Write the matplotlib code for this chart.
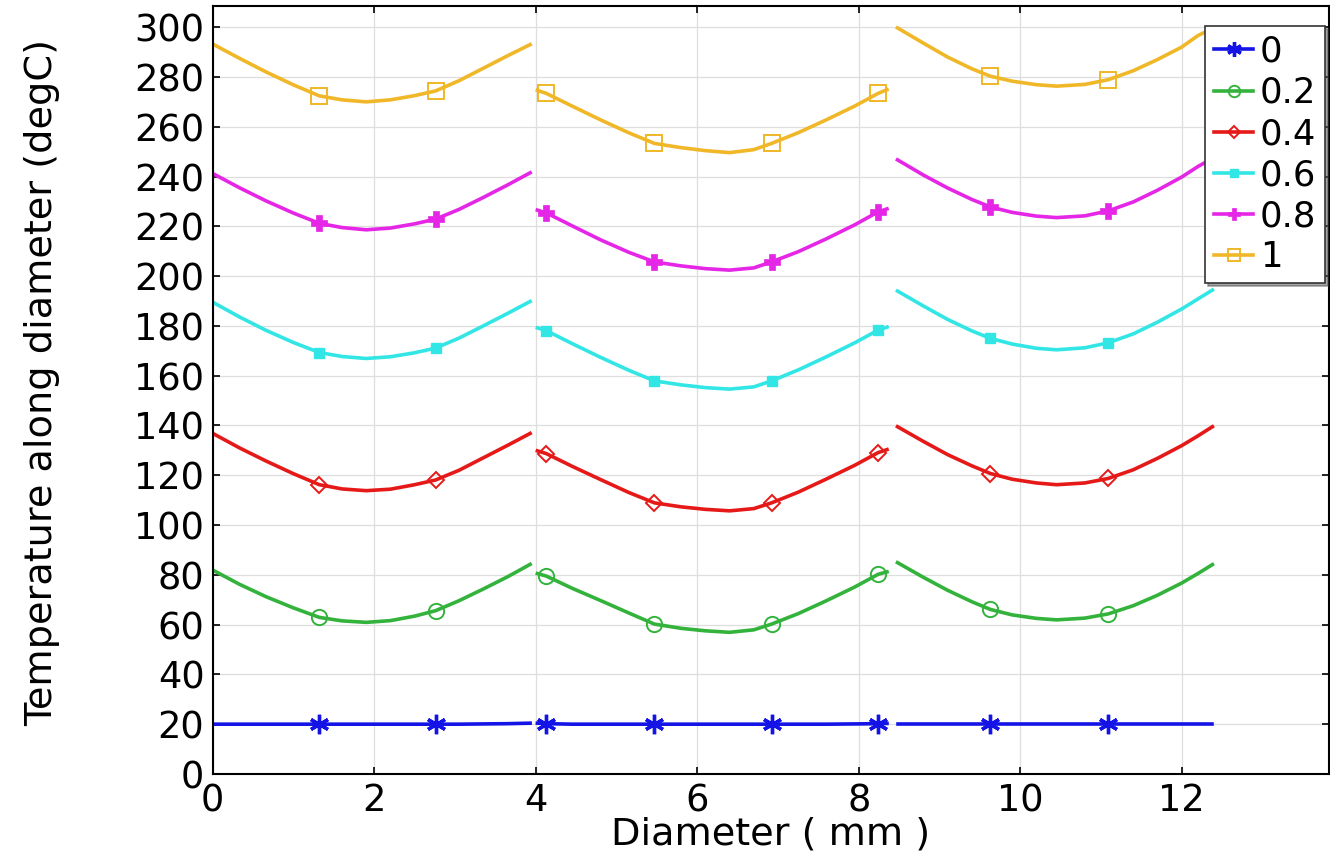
import numpy as np
import matplotlib
matplotlib.use("Agg")
import matplotlib.pyplot as plt

# x positions (mm) of the sampled points, one list per segment
seg_x = [
    [0.0, 0.33, 0.66, 1.0, 1.32, 1.6, 1.9, 2.2, 2.5, 2.76, 3.05, 3.35, 3.65, 3.93],
    [4.02, 4.13, 4.45, 4.8, 5.15, 5.47, 5.8, 6.1, 6.4, 6.7, 6.92, 7.25, 7.6, 7.95, 8.24, 8.35],
    [8.48, 8.8, 9.1, 9.4, 9.63, 9.9, 10.2, 10.45, 10.8, 11.09, 11.4, 11.7, 12.0, 12.2, 12.38],
]
# indices of the points that carry a marker
seg_marks = [[4, 9], [1, 5, 10, 14], [4, 9]]

labels = ["0", "0.2", "0.4", "0.6", "0.8", "1"]

# temperature along diameter (degC), one list per segment
t_0 = [
    [20.0, 20.0, 20.0, 20.0, 20.0, 20.0, 20.0, 20.0, 20.0, 20.0, 20.0, 20.1, 20.2, 20.4],
    [20.4, 20.2, 20.0, 20.0, 20.0, 20.0, 20.0, 20.0, 20.0, 20.0, 20.0, 20.0, 20.0, 20.1, 20.2, 20.3],
    [20.0, 20.0, 20.0, 20.0, 20.0, 20.0, 20.0, 20.0, 20.0, 20.0, 20.0, 20.0, 20.0, 20.0, 20.0],
]
t_02 = [
    [81.9, 76.2, 71.2, 66.7, 62.9, 61.5, 60.9, 61.6, 63.4, 65.6, 69.6, 74.3, 79.2, 84.2],
    [80.5, 79.5, 74.6, 69.7, 64.7, 60.2, 58.5, 57.5, 56.9, 57.9, 60.2, 64.4, 69.6, 75.1, 80.2, 81.2],
    [84.9, 79.0, 73.8, 69.2, 66.1, 63.9, 62.5, 61.9, 62.6, 64.3, 67.6, 71.8, 76.7, 80.5, 84.1],
]
t_04 = [
    [136.8, 131.0, 125.7, 120.6, 116.2, 114.5, 113.8, 114.4, 116.2, 118.1, 122.0, 127.0, 132.0, 136.8],
    [129.8, 128.7, 123.6, 118.3, 113.1, 108.9, 107.3, 106.3, 105.7, 106.6, 108.9, 113.2, 118.5, 124.0, 129.1, 130.3],
    [139.5, 133.6, 128.3, 123.8, 120.7, 118.4, 116.9, 116.2, 116.9, 118.7, 122.2, 126.8, 131.9, 135.8, 139.5],
]
t_06 = [
    [189.5, 183.6, 178.2, 173.3, 169.3, 167.7, 166.9, 167.6, 169.2, 171.1, 175.1, 180.0, 185.0, 189.8],
    [179.2, 178.1, 172.9, 167.4, 162.2, 157.9, 156.3, 155.2, 154.6, 155.5, 157.9, 162.3, 167.6, 173.2, 178.3, 179.5],
    [194.0, 188.0, 182.6, 178.0, 175.0, 172.7, 171.0, 170.4, 171.2, 173.2, 176.8, 181.5, 186.8, 190.8, 194.4],
]
t_08 = [
    [241.2, 235.5, 230.2, 225.3, 221.2, 219.5, 218.6, 219.3, 221.0, 222.9, 226.8, 231.6, 236.6, 241.5],
    [226.5, 225.4, 220.2, 214.6, 209.6, 205.7, 204.1, 203.0, 202.4, 203.3, 205.7, 209.8, 215.0, 220.6, 225.8, 227.0],
    [246.7, 240.6, 235.4, 230.8, 227.8, 225.6, 224.1, 223.5, 224.2, 226.2, 229.8, 234.5, 239.8, 244.0, 247.3],
]
t_1 = [
    [293.2, 287.5, 282.0, 276.8, 272.4, 270.8, 270.0, 270.8, 272.5, 274.4, 278.5, 283.5, 288.5, 293.0],
    [274.6, 273.4, 268.3, 262.8, 257.6, 253.3, 251.6, 250.4, 249.6, 250.8, 253.3, 257.6, 262.8, 268.3, 273.4, 274.9],
    [299.7, 293.6, 288.0, 283.3, 280.3, 278.3, 276.9, 276.3, 277.0, 278.9, 282.5, 287.0, 292.0, 296.6, 299.5],
]

series = [t_0, t_02, t_04, t_06, t_08, t_1]
colors = ["#1414e6", "#33b33c", "#e61919", "#33e6e6", "#e626e6", "#f0b828"]
styles = [
    dict(marker=(6, 2, 0), markersize=14, markeredgewidth=2.4),
    dict(marker="o", markersize=11, markerfacecolor="none", markeredgewidth=1.4),
    dict(marker="D", markersize=8, markerfacecolor="none", markeredgewidth=1.4),
    dict(marker="s", markersize=7, markeredgewidth=1),
    dict(marker="P", markersize=11, markeredgewidth=0.5),
    dict(marker="s", markersize=12, markerfacecolor="none", markeredgewidth=1.4),
]

fig = plt.figure(figsize=(13.3, 8.59), dpi=100)
ax = fig.add_axes([0.160, 0.099, 0.839, 0.894])

for temps, c, st, lab in zip(series, colors, styles, labels):
    for k in range(3):
        ax.plot(seg_x[k], temps[k], color=c, linewidth=2.6, markevery=seg_marks[k],
                label=lab if k == 0 else None, **st)

ax.set_xlim(0, 13.82)
ax.set_ylim(0, 308.5)
ax.set_xticks(np.arange(0, 13, 2))
ax.set_yticks(np.arange(0, 301, 20))
ax.grid(True, color="#dedede", linewidth=0.9)
ax.set_axisbelow(True)
ax.tick_params(direction="in", top=True, right=True, labelsize=26.5, length=5, width=1.2, pad=6)
for sp in ax.spines.values():
    sp.set_linewidth(1.5)

ax.set_xlabel("Diameter ( mm )", fontsize=27.5, labelpad=-2)
ax.set_ylabel("Temperature along diameter (degC)", fontsize=27.5)
ax.yaxis.set_label_coords(-0.137, 0.51)

leg = ax.legend(loc="upper right", bbox_to_anchor=(0.997, 0.974), fontsize=25.5, shadow=True,
                fancybox=False, handlelength=1.1, handletextpad=0.2, borderpad=0.25,
                labelspacing=0.2, borderaxespad=0, framealpha=1, markerscale=0.75)
leg.get_frame().set_edgecolor("#333333")
leg.get_frame().set_linewidth(1.2)

fig.savefig("out.png", dpi=100)
